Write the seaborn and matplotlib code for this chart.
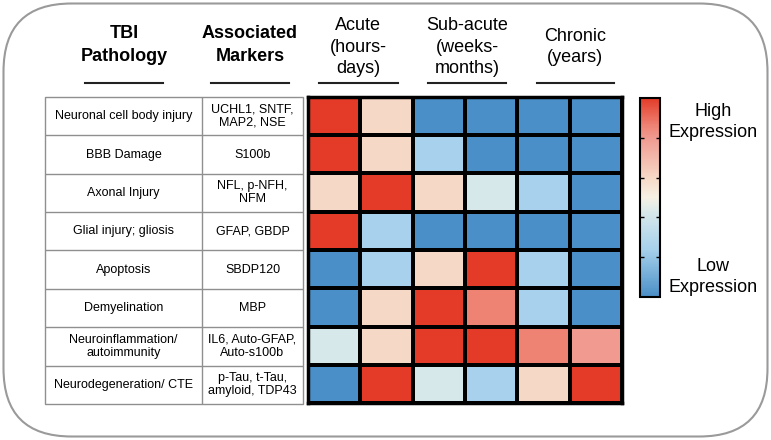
import numpy as np
import pandas as pd
import seaborn as sns
import matplotlib
matplotlib.use("Agg")
import matplotlib.pyplot as plt
from matplotlib.colors import LinearSegmentedColormap
from matplotlib.patches import FancyBboxPatch, Rectangle
from matplotlib.lines import Line2D

# ---------------- data ----------------
pathologies = ["Neuronal cell body injury", "BBB Damage", "Axonal Injury",
               "Glial injury; gliosis", "Apoptosis", "Demyelination",
               "Neuroinflammation/\nautoimmunity", "Neurodegeneration/ CTE"]
markers = ["UCHL1, SNTF,\nMAP2, NSE", "S100b", "NFL, p-NFH,\nNFM", "GFAP, GBDP",
           "SBDP120", "MBP", "IL6, Auto-GFAP,\nAuto-s100b",
           "p-Tau, t-Tau,\namyloid, TDP43"]
phases = ["Acute\n(hours-\ndays)", "Sub-acute\n(weeks-\nmonths)", "Chronic\n(years)"]
timepoints = ["A1", "A2", "S1", "S2", "C1", "C2"]
# expression level, 0 = low ... 5 = high
expression = [
    [5.0, 3.0, 0.0, 0.0, 0.0, 0.0],
    [5.0, 3.0, 1.2, 0.0, 0.0, 0.0],
    [3.0, 5.0, 3.0, 2.1, 1.2, 0.0],
    [5.0, 1.2, 0.0, 0.0, 0.0, 0.0],
    [0.0, 1.2, 3.0, 5.0, 1.2, 0.0],
    [0.0, 3.0, 5.0, 4.3, 1.2, 0.0],
    [2.1, 3.0, 5.0, 5.0, 4.3, 4.0],
    [0.0, 5.0, 2.1, 1.2, 3.0, 5.0],
]

df = pd.DataFrame(expression, index=pathologies, columns=timepoints)

FONT = "Liberation Sans"
plt.rcParams["font.family"] = [FONT, "DejaVu Sans"]

W, H = 771, 440
fig = plt.figure(figsize=(W / 100, H / 100), dpi=100)


def fx(x):
    return x / W


def fy(y):
    return 1 - y / H


def box(x0, y0, x1, y1):
    return [fx(x0), fy(y1), (x1 - x0) / W, (y1 - y0) / H]


# rounded frame
frame = FancyBboxPatch((0.035, 0.035), 7.64, 4.33,
                       boxstyle="round,pad=0,rounding_size=0.68",
                       transform=fig.dpi_scale_trans, facecolor="none",
                       edgecolor="#9a9a9a", linewidth=1.5, zorder=-1)
fig.patches.append(frame)

cmap = LinearSegmentedColormap.from_list("expr", [
    (0.0, "#4A8FC7"), (0.24, "#A7D1EC"), (0.42, "#D6E8EA"), (0.5, "#F6F1E4"),
    (0.6, "#F6D8C6"), (0.8, "#F09A90"), (0.86, "#EE8476"), (1.0, "#E33B28")])

ax_h = fig.add_axes(box(308, 97, 622, 403))
ax_c = fig.add_axes(box(640, 98, 660, 297))

sns.heatmap(df, ax=ax_h, cmap=cmap, vmin=0, vmax=5, linewidths=1.5,
            linecolor="black", cbar_ax=ax_c, xticklabels=False,
            yticklabels=False)
ax_h.set_xlabel("")
ax_h.set_ylabel("")
for s in ax_h.spines.values():
    s.set_visible(True)
    s.set_linewidth(2.5)
    s.set_color("black")

cb = ax_h.collections[0].colorbar
cb.set_ticks([1, 2, 3, 4])
cb.outline.set_linewidth(1.5)
cb.outline.set_edgecolor("black")
ax_c.tick_params(axis="y", direction="in", length=3, width=1, left=True,
                 right=True, labelleft=False, labelright=False, colors="black")

fig.text(fx(713), fy(122), "High\nExpression", ha="center", va="center",
         fontsize=13, linespacing=1.3, family=FONT)
fig.text(fx(713), fy(277), "Low\nExpression", ha="center", va="center",
         fontsize=13, linespacing=1.3, family=FONT)

# table
ax_t = fig.add_axes(box(45, 97, 303, 404))
ax_t.set_xlim(0, 1)
ax_t.set_ylim(len(pathologies), 0)
ax_t.axis("off")
div = (202 - 45) / 258
gray = "#8f8f8f"
ax_t.add_patch(Rectangle((0, 0), 1, len(pathologies), fill=False,
                         edgecolor=gray, linewidth=1, clip_on=False))
ax_t.plot([div, div], [0, len(pathologies)], color=gray, lw=1)
for i in range(1, len(pathologies)):
    ax_t.plot([0, 1], [i, i], color=gray, lw=1)
for i, (p, m) in enumerate(zip(pathologies, markers)):
    ax_t.text(div / 2, i + 0.5, p, ha="center", va="center", fontsize=9,
              linespacing=1.1, family=FONT)
    ax_t.text((div + 1) / 2, i + 0.5, m, ha="center", va="center",
              fontsize=9, linespacing=1.1, family=FONT)

# headers
fig.text(fx(124), fy(45), "TBI\nPathology", ha="center", va="center",
         fontsize=13, fontweight="bold", linespacing=1.5, family=FONT)
fig.text(fx(250), fy(45), "Associated\nMarkers", ha="center", va="center",
         fontsize=13, fontweight="bold", linespacing=1.5, family=FONT)
phase_x = [358, 467, 575]
phase_y = [47, 47, 47]
for t, x, y in zip(phases, phase_x, phase_y):
    fig.text(fx(x), fy(y), t, ha="center", va="center", fontsize=13,
             linespacing=1.35, family=FONT)

underlines = [(85, 163), (211, 289), (319, 398), (428, 506), (537, 614)]
for x0, x1 in underlines:
    fig.add_artist(Line2D([fx(x0), fx(x1)], [fy(83), fy(83)],
                          color="#222222", lw=1.5))

fig.savefig("out.png", dpi=100)
